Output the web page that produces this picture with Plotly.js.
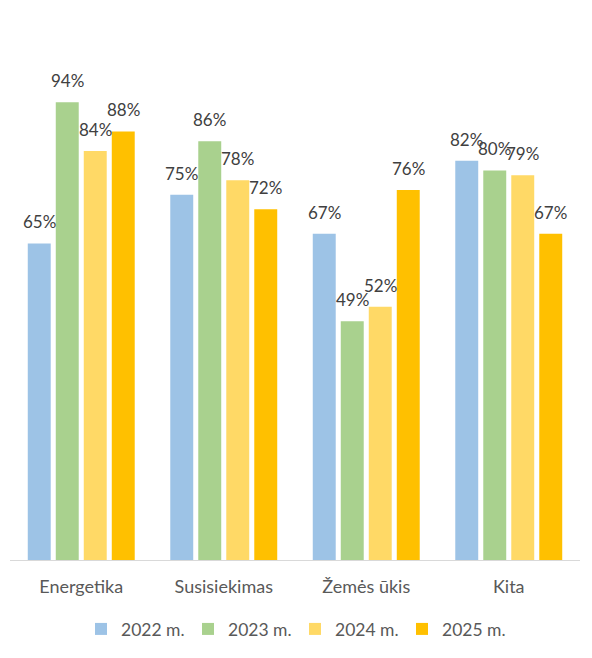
<!DOCTYPE html>
<html>
<head>
<meta charset="utf-8">
<script src="https://cdn.plot.ly/plotly-3.0.1.min.js"></script>
<style>html,body{margin:0;padding:0;background:#fff;}#chart{width:592px;height:658px;}</style>
</head>
<body>
<div id="chart"></div>
<script>
const categories = ["Energetika", "Susisiekimas", "Žemės ūkis", "Kita"];
const seriesNames = ["2022 m.", "2023 m.", "2024 m.", "2025 m."];
const values2022 = [65, 75, 67, 82];
const values2023 = [94, 86, 49, 80];
const values2024 = [84, 78, 52, 79];
const values2025 = [88, 72, 76, 67];
const colors = ["#9DC3E6", "#A9D18E", "#FFD966", "#FFC000"];

const allValues = [values2022, values2023, values2024, values2025];
const FONT = "Lato, 'Open Sans', sans-serif";

const traces = allValues.map((vals, i) => ({
  type: "bar",
  name: seriesNames[i],
  x: categories,
  y: vals,
  marker: {color: colors[i]},
  hoverinfo: "skip"
}));

const slot = 28;
const annotations = [];
allValues.forEach((vals, i) => {
  vals.forEach((v, j) => {
    annotations.push({
      x: categories[j], y: v, xref: "x", yref: "y",
      text: v + "%", showarrow: false,
      xshift: (i - 1.5) * slot, yshift: 9,
      yanchor: "bottom",
      font: {family: FONT, size: 17, color: "#404040"}
    });
  });
});

const layout = {
  width: 592, height: 658,
  paper_bgcolor: "#ffffff", plot_bgcolor: "#ffffff",
  margin: {l: 10, r: 12, t: 73, b: 98},
  barmode: "group",
  bargap: 0.214,
  bargroupgap: 0.18,
  showlegend: true,
  legend: {
    orientation: "h", x: 0.5, xanchor: "center",
    yref: "container", y: 0.044, yanchor: "middle",
    font: {family: FONT, size: 17.5, color: "#595959"},
    traceorder: "normal",
    entrywidth: 62, entrywidthmode: "pixels"
  },
  xaxis: {
    showline: true, linecolor: "#D9D9D9", linewidth: 1,
    ticks: "", showgrid: false, zeroline: false,
    tickfont: {family: FONT, size: 18, color: "#595959"},
    ticklabelstandoff: 10,
    fixedrange: true
  },
  yaxis: {
    range: [0, 100], visible: false, showgrid: false, zeroline: false,
    fixedrange: true
  },
  annotations: annotations
};

Plotly.newPlot("chart", traces, layout, {displayModeBar: false, staticPlot: true});
</script>
</body>
</html>
